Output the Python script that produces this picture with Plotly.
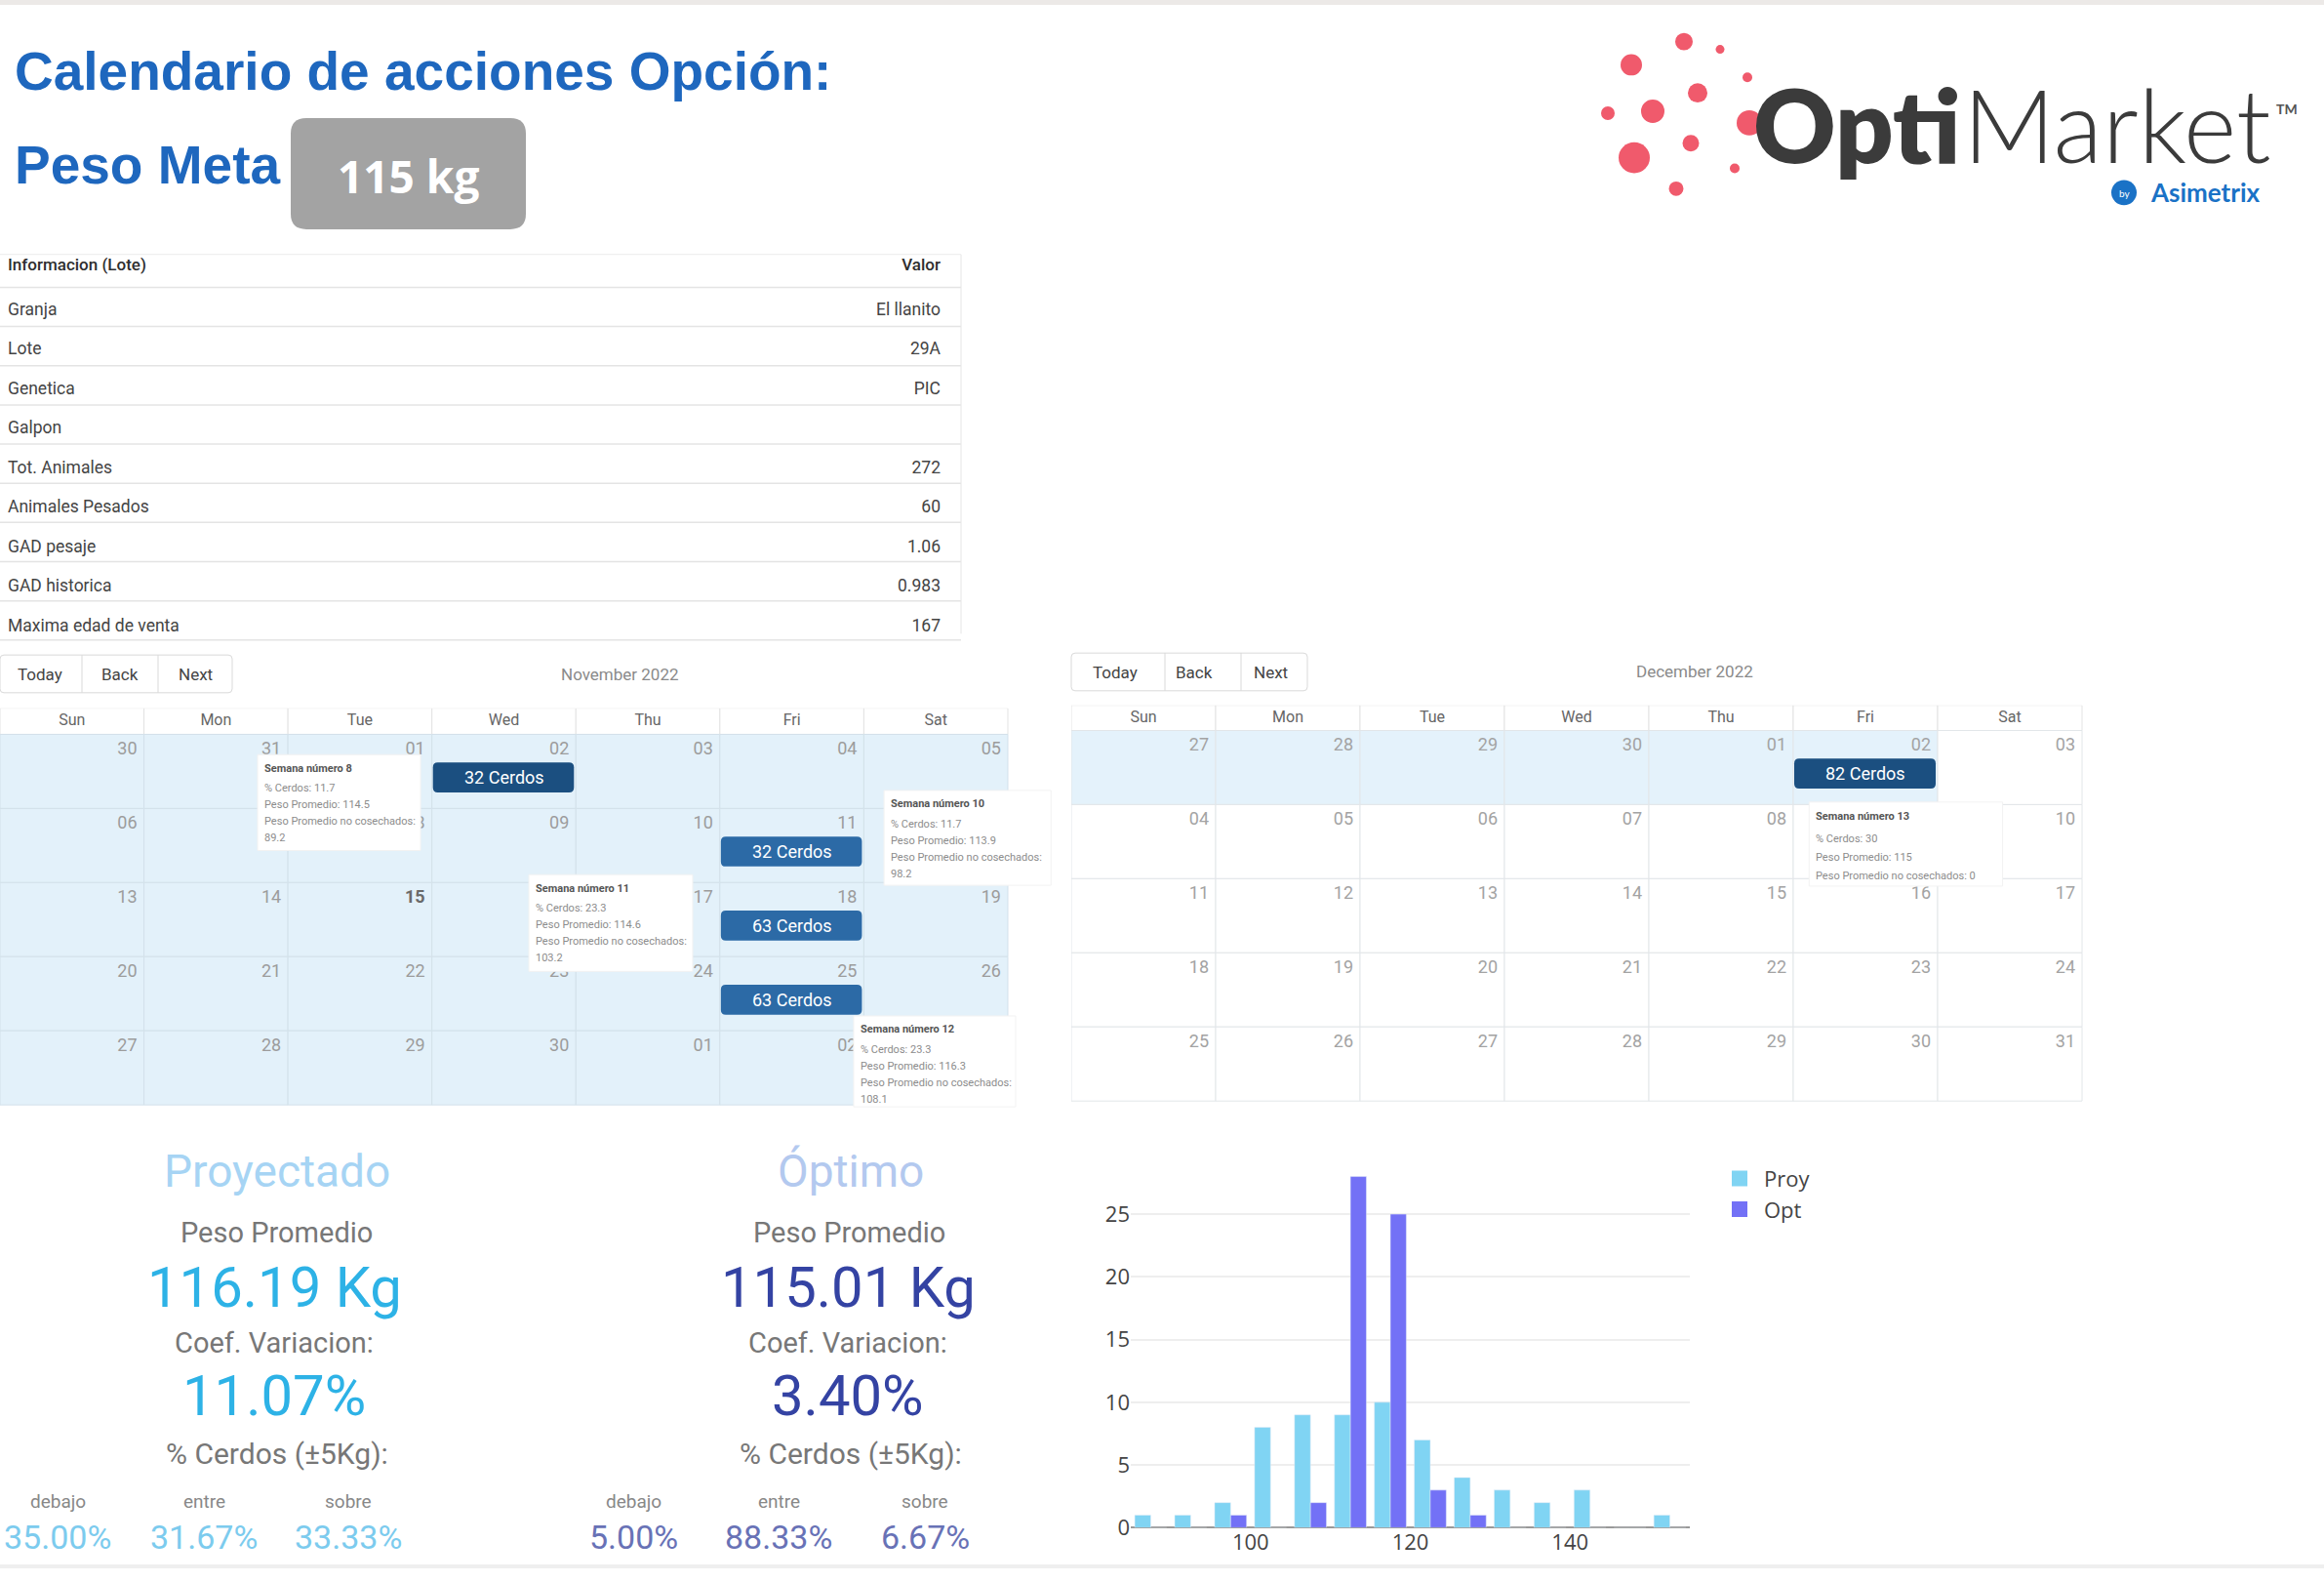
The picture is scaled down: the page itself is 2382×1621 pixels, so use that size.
import plotly.graph_objects as go

W, H = 2382, 1621
FONT = "Roboto"

# ---------------- data ----------------
title_line1 = "Calendario de acciones Opción:"
title_line2 = "Peso Meta"
peso_meta = "115 kg"

table_header = ["Informacion (Lote)", "Valor"]
table_labels = ["Granja", "Lote", "Genetica", "Galpon", "Tot. Animales", "Animales Pesados",
                "GAD pesaje", "GAD historica", "Maxima edad de venta"]
table_values = ["El llanito", "29A", "PIC", "", "272", "60", "1.06", "0.983", "167"]

weekdays = ["Sun", "Mon", "Tue", "Wed", "Thu", "Fri", "Sat"]
nav_buttons = ["Today", "Back", "Next"]

nov_title = "November 2022"
nov_days = [[30, 31, 1, 2, 3, 4, 5],
            [6, 7, 8, 9, 10, 11, 12],
            [13, 14, 15, 16, 17, 18, 19],
            [20, 21, 22, 23, 24, 25, 26],
            [27, 28, 29, 30, 1, 2, 3]]
nov_today = 15
nov_event_week = [0, 1, 2, 3]
nov_event_day = [3, 5, 5, 5]
nov_event_cerdos = [32, 32, 63, 63]

dec_title = "December 2022"
dec_days = [[27, 28, 29, 30, 1, 2, 3],
            [4, 5, 6, 7, 8, 9, 10],
            [11, 12, 13, 14, 15, 16, 17],
            [18, 19, 20, 21, 22, 23, 24],
            [25, 26, 27, 28, 29, 30, 31]]
dec_event_week = [0]
dec_event_day = [5]
dec_event_cerdos = [82]

semana_num = [8, 10, 11, 12, 13]
semana_pct = ["11.7", "11.7", "23.3", "23.3", "30"]
semana_peso = ["114.5", "113.9", "114.6", "116.3", "115"]
semana_no_cos = ["89.2", "98.2", "103.2", "108.1", "0"]

stat_titles = ["Proyectado", "Óptimo"]
stat_peso = [116.19, 115.01]
stat_cv = [11.07, 3.40]
stat_sub_labels = ["debajo", "entre", "sobre"]
stat_debajo = [35.00, 5.00]
stat_entre = [31.67, 88.33]
stat_sobre = [33.33, 6.67]

hist_bins = [87.5, 92.5, 97.5, 102.5, 107.5, 112.5, 117.5, 122.5, 127.5, 132.5, 137.5, 142.5, 147.5, 152.5]
hist_proy = [1, 1, 2, 8, 9, 9, 10, 7, 4, 3, 2, 3, 0, 1]
hist_opt = [0, 0, 1, 0, 2, 28, 25, 3, 1, 0, 0, 0, 0, 0]

# ---------------- helpers ----------------
fig = go.Figure()


def fx(px):
    return px / W


def fy(py):
    return 1 - py / H


shapes = []
annotations = []


def add_text(text, x, y, size, color, xanchor="center", yanchor="middle", family=FONT,
             weight=None, xref="paper", yref="paper"):
    if xref == "paper":
        x = fx(x)
    if yref == "paper":
        y = fy(y)
    font = dict(size=size, color=color, family=family)
    if weight:
        font["weight"] = weight
    annotations.append(dict(text=text, x=x, y=y, xref=xref, yref=yref, xanchor=xanchor,
                            yanchor=yanchor, showarrow=False, font=font))


def rrect(x0, x1, y0, y1, rx, ry):
    rx = abs(rx) * (1 if x1 > x0 else -1)
    ry = abs(ry) * (1 if y1 > y0 else -1)
    return (f"M {x0+rx},{y0} L {x1-rx},{y0} Q {x1},{y0} {x1},{y0+ry} "
            f"L {x1},{y1-ry} Q {x1},{y1} {x1-rx},{y1} L {x0+rx},{y1} "
            f"Q {x0},{y1} {x0},{y1-ry} L {x0},{y0+ry} Q {x0},{y0} {x0+rx},{y0} Z")


def paper_rrect(x0, x1, y0, y1, r, fill, line_color=None, line_w=0):
    shapes.append(dict(type="path", xref="paper", yref="paper",
                       path=rrect(fx(x0), fx(x1), fy(y0), fy(y1), r / W, r / H),
                       fillcolor=fill, line=dict(color=line_color or fill, width=line_w),
                       layer="above"))


def hline(x0, x1, y, color, width=1, layer="above"):
    shapes.append(dict(type="line", xref="paper", yref="paper", x0=fx(x0), x1=fx(x1),
                       y0=fy(y), y1=fy(y), line=dict(color=color, width=width), layer=layer))


# ---------------- page frame ----------------
shapes.append(dict(type="rect", xref="paper", yref="paper", x0=0, x1=1, y0=fy(5), y1=1,
                   fillcolor="#ece9e7", line=dict(width=0), layer="below"))
shapes.append(dict(type="rect", xref="paper", yref="paper", x0=0, x1=1, y0=0, y1=fy(1617),
                   fillcolor="#efefef", line=dict(width=0), layer="below"))

# ---------------- title ----------------
TITLE_BLUE = "#1e67be"
add_text(f"<b>{title_line1}</b>", 13, 74, 55, TITLE_BLUE, xanchor="left", family="Liberation Sans")
add_text(f"<b>{title_line2}</b>", 13, 170, 55, TITLE_BLUE, xanchor="left", family="Liberation Sans")
paper_rrect(298, 539, 122, 237, 16, "#a3a3a3")
add_text(f"<b>{peso_meta}</b>", 418, 182, 46, "white", family="Open Sans")

# ---------------- logo ----------------
logo_dots = [(1726, 43, 9), (1763, 51, 4.5), (1672, 67, 11), (1791, 80, 5), (1740, 96, 10),
             (1694, 115, 12), (1648, 117, 7), (1793, 127, 13), (1733, 148, 8.5), (1675, 163, 16),
             (1778, 174, 5), (1718, 195, 7.5)]
for cx, cy, r in logo_dots:
    shapes.append(dict(type="circle", xref="paper", yref="paper", x0=fx(cx - r), x1=fx(cx + r),
                       y0=fy(cy + r), y1=fy(cy - r), fillcolor="#f05a6c", line=dict(width=0),
                       layer="above"))
add_text("Opti", 2012, 128, 104, "#3b3b3b", xanchor="right", family="Lato", weight=800)
add_text("Market", 2010, 128, 104, "#3b3b3b", xanchor="left", family="Lato", weight=300)
add_text("TM", 2344, 112, 14, "#555555", family="Lato", weight=700)
shapes.append(dict(type="circle", xref="paper", yref="paper", x0=fx(2164), x1=fx(2190),
                   y0=fy(212), y1=fy(186), fillcolor="#1a72c6", line=dict(width=0), layer="above"))
add_text("by", 2177, 200, 10, "white", family="Lato")
add_text("<b>Asimetrix</b>", 2202, 199, 26, "#1a72c6", xanchor="left", family="Lato")

# ---------------- table ----------------
TBL_TOP, TBL_HDR, TBL_ROW = 258, 46, 40.5
fig.add_trace(go.Table(
    domain=dict(x=[0, fx(972)], y=[fy(TBL_TOP + TBL_HDR + 9 * TBL_ROW + 2), fy(TBL_TOP)]),
    columnwidth=[790, 182],
    header=dict(values=table_header, align=["left", "right"],
                fill_color="white", line=dict(color="white", width=1),
                font=dict(family=FONT, size=17, color="#2e2e2e", weight=500), height=TBL_HDR),
    cells=dict(values=[table_labels, table_values], align=["left", "right"],
               fill_color="white", line=dict(color="white", width=1),
               font=dict(family=FONT, size=17.5, color="#444444"), height=TBL_ROW),
))
hline(0, 985, 263, "#ececec", 1)
for k in range(len(table_labels) + 1):
    yk = TBL_TOP + TBL_HDR - 7 + k * TBL_ROW
    hline(0, 985, yk, "#e4e4e4", 1.5)
shapes.append(dict(type="line", xref="paper", yref="paper", x0=fx(985), x1=fx(985),
                   y0=fy(263), y1=fy(655), line=dict(color="#e6e6e6", width=1), layer="above"))

# ---------------- calendars ----------------
NOV = dict(ax="2", x0=0, cw=147.57, hdr_top=732, top=759, rh=76.6, xr=7.5, yr=5.15,
           btn=(0, 238, 677, 716), btn_div=(84, 162), btn_txt=(41, 123, 200), btn_y=697,
           title_x=635, title_y=697,
           fill="#e3f1fa", grid="#d3e1ea", num="#9c9c9c")
DEC = dict(ax="3", x0=1098, cw=148.0, hdr_top=729, top=755, rh=76.6, xr=7.2, yr=5.1,
           btn=(1098, 1340, 675, 714), btn_div=(1194, 1272), btn_txt=(1143, 1224, 1302), btn_y=695,
           title_x=1737, title_y=694,
           fill="#e4f2fb", grid="#e2e6e9", num="#a3a3a3")

nov_highlight = [[True] * 7 for _ in range(5)]
dec_highlight = [[c < 6 for c in range(7)] if r == 0 else [False] * 7 for r in range(5)]

axes_layout = {}


def draw_calendar(cfg, days, highlight, ev_week, ev_day, ev_cerdos, ev_colors, month_title, today=None):
    ax = cfg["ax"]
    xref, yref = "x" + ax, "y" + ax
    cw, rh = cfg["cw"], cfg["rh"]
    hdr = (cfg["top"] - cfg["hdr_top"]) / rh
    axes_layout["xaxis" + ax] = dict(domain=[fx(cfg["x0"]), fx(cfg["x0"] + cfg["xr"] * cw)],
                                     range=[0, cfg["xr"]], visible=False, anchor=yref,
                                     fixedrange=True)
    axes_layout["yaxis" + ax] = dict(domain=[fy(cfg["top"] + cfg["yr"] * rh), fy(cfg["hdr_top"])],
                                     range=[cfg["yr"], -hdr], visible=False, anchor=xref,
                                     fixedrange=True)
    for c in range(7):
        shapes.append(dict(type="rect", xref=xref, yref=yref, x0=c, x1=c + 1, y0=-hdr, y1=0,
                           fillcolor="white", line=dict(color="#e3e3e3", width=1), layer="below"))
    for r in range(len(days)):
        for c in range(7):
            shapes.append(dict(type="rect", xref=xref, yref=yref, x0=c, x1=c + 1, y0=r, y1=r + 1,
                               fillcolor=cfg["fill"] if highlight[r][c] else "white",
                               line=dict(color=cfg["grid"], width=1), layer="below"))
    fig.add_trace(go.Scatter(x=[c + 0.5 for c in range(7)], y=[-hdr / 2] * 7, text=weekdays,
                             mode="text", textposition="middle center", xaxis=xref, yaxis=yref,
                             textfont=dict(family=FONT, size=16, color="#666666"),
                             showlegend=False, hoverinfo="skip"))
    xs, ys, ts, cs = [], [], [], []
    for r, week in enumerate(days):
        for c, d in enumerate(week):
            xs.append(c + 1 - 7 / cw)
            ys.append(r + 16 / rh)
            if today is not None and d == today and r == 2:
                ts.append(f"<b>{d:02d}</b>")
                cs.append("#6a6a6a")
            else:
                ts.append(f"{d:02d}")
                cs.append(cfg["num"])
    fig.add_trace(go.Scatter(x=xs, y=ys, text=ts, mode="text", textposition="middle left",
                             xaxis=xref, yaxis=yref,
                             textfont=dict(family=FONT, size=18, color=cs),
                             showlegend=False, hoverinfo="skip"))
    for w, d, n, col in zip(ev_week, ev_day, ev_cerdos, ev_colors):
        x0, x1 = d + 1 / cw, d + 1 - 2 / cw
        y0, y1 = w + 29 / rh, w + 60 / rh
        shapes.append(dict(type="path", xref=xref, yref=yref,
                           path=rrect(x0, x1, y0, y1, 5 / cw, 5 / rh),
                           fillcolor=col, line=dict(width=0), layer="above"))
        add_text(f"{n} Cerdos", d + 0.5, w + 44.5 / rh, 18, "white", xref=xref, yref=yref)
    bx0, bx1, by0, by1 = cfg["btn"]
    paper_rrect(bx0, bx1, by0, by1, 4, "white", "#d9d9d9", 1)
    for dx in cfg["btn_div"]:
        shapes.append(dict(type="line", xref="paper", yref="paper", x0=fx(dx), x1=fx(dx),
                           y0=fy(by0), y1=fy(by1), line=dict(color="#d9d9d9", width=1),
                           layer="above"))
    for t, tx in zip(nav_buttons, cfg["btn_txt"]):
        add_text(t, tx, cfg["btn_y"], 17, "#444444")
    add_text(month_title, cfg["title_x"], cfg["title_y"], 17, "#8a8a8a")


draw_calendar(NOV, nov_days, nov_highlight, nov_event_week, nov_event_day, nov_event_cerdos,
              ["#1b4f80", "#2c6aa6", "#2c6aa6", "#2c6aa6"], nov_title, today=nov_today)
draw_calendar(DEC, dec_days, dec_highlight, dec_event_week, dec_event_day, dec_event_cerdos,
              ["#1b4f80"], dec_title)

# ---------------- week tooltips ----------------
tooltip_boxes = [(NOV, 1.789, 2.921, 0.274, 1.567),
                 (NOV, 6.14, 7.30, 0.757, 2.037),
                 (NOV, 3.673, 4.811, 1.893, 3.198),
                 (NOV, 5.929, 7.054, 3.799, 5.026),
                 (DEC, 5.11, 6.45, 0.966, 2.10)]
for i, (cfg, x0, x1, y0, y1) in enumerate(tooltip_boxes):
    xref, yref = "x" + cfg["ax"], "y" + cfg["ax"]
    cw, rh = cfg["cw"], cfg["rh"]
    shapes.append(dict(type="rect", xref=xref, yref=yref, x0=x0, x1=x1, y0=y0, y1=y1,
                       fillcolor="white", line=dict(color="#f2f2f2", width=1), layer="above"))
    tx = x0 + 5 / cw
    if cfg is DEC:
        lines = [f"% Cerdos: {semana_pct[i]}", f"Peso Promedio: {semana_peso[i]}",
                 f"Peso Promedio no cosechados: {semana_no_cos[i]}"]
        offs = [15, 38, 57, 76]
    else:
        lines = [f"% Cerdos: {semana_pct[i]}", f"Peso Promedio: {semana_peso[i]}",
                 "Peso Promedio no cosechados:", semana_no_cos[i]]
        offs = [14, 35, 52, 69, 86]
    add_text(f"<b>Semana número {semana_num[i]}</b>", tx, y0 + offs[0] / rh, 11, "#555555",
             xanchor="left", xref=xref, yref=yref)
    for line, o in zip(lines, offs[1:]):
        add_text(line, tx, y0 + o / rh, 11, "#8c8c8c", xanchor="left", xref=xref, yref=yref)

# ---------------- stats ----------------
stat_x = [281, 869]
stat_sub_x = [[59, 209, 357], [649, 798, 948]]
title_colors = ["#a6d4f4", "#b3c9ef"]
main_colors = ["#2db2e6", "#3443a3"]
small_colors = ["#7ccbee", "#6872b6"]
for k in range(2):
    add_text(stat_titles[k], stat_x[k] + 3, 1210, 46, title_colors[k])
    add_text("Peso Promedio", stat_x[k] + 2, 1274, 29, "#777777")
    add_text(f"{stat_peso[k]:.2f} Kg", stat_x[k], 1330, 58, main_colors[k])
    add_text("Coef. Variacion:", stat_x[k], 1388, 29, "#777777")
    add_text(f"{stat_cv[k]:.2f}%", stat_x[k], 1442, 58, main_colors[k])
    add_text("% Cerdos (±5Kg):", stat_x[k] + 3, 1502, 30, "#777777")
    vals = [stat_debajo[k], stat_entre[k], stat_sobre[k]]
    for j in range(3):
        add_text(stat_sub_labels[j], stat_sub_x[k][j], 1552, 19, "#888888")
        add_text(f"{vals[j]:.2f}%", stat_sub_x[k][j], 1589, 34, small_colors[k])

# ---------------- histogram ----------------
PROY_COLOR, OPT_COLOR = "#80d4f3", "#7371f6"
fig.add_trace(go.Bar(x=hist_bins, y=hist_proy, name="Proy", marker_color=PROY_COLOR,
                     xaxis="x", yaxis="y", showlegend=False))
fig.add_trace(go.Bar(x=hist_bins, y=hist_opt, name="Opt", marker_color=OPT_COLOR,
                     xaxis="x", yaxis="y", showlegend=False))
for nm, colr in (("Proy", PROY_COLOR), ("Opt", OPT_COLOR)):
    fig.add_trace(go.Scatter(x=[None], y=[None], mode="markers", name=nm,
                             marker=dict(symbol="square", size=16, color=colr),
                             xaxis="x", yaxis="y", hoverinfo="skip"))

layout_axes = dict(
    xaxis=dict(domain=[fx(1159), fx(1732)], range=[85, 155], tickvals=[100, 120, 140],
               showgrid=False, zeroline=False, showline=False, ticks="",
               tickfont=dict(size=22, color="#444444", family="Open Sans"), fixedrange=True,
               anchor="y"),
    yaxis=dict(domain=[fy(1579), fy(1197)], range=[0, 29.47], tickvals=[0, 5, 10, 15, 20, 25],
               showgrid=True, gridcolor="#eeeeee", gridwidth=1.5, zeroline=True,
               zerolinecolor="#999999", zerolinewidth=2, showline=False, ticks="",
               tickfont=dict(size=22, color="#444444", family="Open Sans"), fixedrange=True,
               anchor="x"),
)
layout_axes.update(axes_layout)

fig.update_layout(
    width=W, height=H, margin=dict(l=0, r=0, t=0, b=0),
    paper_bgcolor="white", plot_bgcolor="rgba(0,0,0,0)",
    barmode="group", bargap=0.2, bargroupgap=0,
    showlegend=True,
    legend=dict(x=fx(1758), y=fy(1197), xanchor="left", yanchor="top",
                font=dict(size=22, color="#444444", family="Open Sans"),
                bgcolor="rgba(0,0,0,0)", tracegroupgap=0, itemwidth=40),
    shapes=shapes, annotations=annotations,
    font=dict(family=FONT),
    **layout_axes,
)

fig.write_html("out.html", config={"displayModeBar": False},
               post_script="document.body.style.margin='0px';document.body.style.overflow='hidden';")
